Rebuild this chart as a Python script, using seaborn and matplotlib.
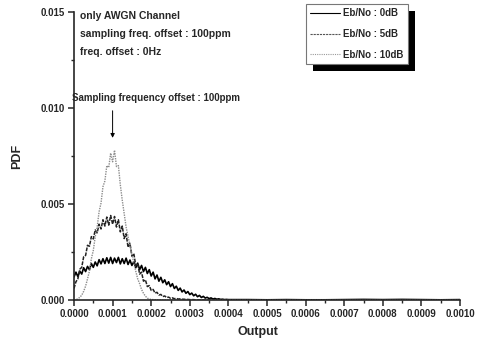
import numpy as np
import pandas as pd
import matplotlib
matplotlib.use("Agg")
import matplotlib.pyplot as plt
import matplotlib.patheffects as pe
from matplotlib.ticker import MultipleLocator, FormatStrFormatter
import seaborn as sns

# ---------------- data ----------------
# fine grid 0 .. 0.0004 (step 5e-6), then coarse tail to 0.001
output_fine = np.round(np.arange(0, 0.0004001, 0.000005), 7)
output_tail = [0.00045, 0.0005, 0.00055, 0.0006, 0.00065, 0.0007,
               0.00075, 0.0008, 0.00085, 0.0009, 0.00095, 0.001]

pdf_0dB = [0.00120, 0.00145, 0.00122, 0.00150, 0.00135, 0.00168, 0.00148, 0.00175,
           0.00158, 0.00190, 0.00170, 0.00198, 0.00178, 0.00210, 0.00188, 0.00215,
           0.00190, 0.00220, 0.00192, 0.00222, 0.00190, 0.00218, 0.00195, 0.00222,
           0.00188, 0.00215, 0.00190, 0.00218, 0.00185, 0.00208, 0.00180, 0.00200,
           0.00168, 0.00192, 0.00158, 0.00180, 0.00148, 0.00170, 0.00138, 0.00158,
           0.00125, 0.00145, 0.00110, 0.00130, 0.00098, 0.00118, 0.00090, 0.00105,
           0.00080, 0.00095, 0.00070, 0.00085, 0.00060, 0.00072, 0.00050, 0.00062,
           0.00042, 0.00052, 0.00035, 0.00044, 0.00028, 0.00036, 0.00022, 0.00030,
           0.00017, 0.00024, 0.00013, 0.00019, 0.00010, 0.00014, 0.00007, 0.00011,
           0.00005, 0.00008, 0.00004, 0.00006, 0.00003, 0.00004, 0.00002, 0.00003,
           0.00002]
tail_0dB = [0.00002, 0.00001, 0.00002, 0.00001, 0.00001, 0.00002,
            0.00003, 0.00002, 0.00003, 0.00002, 0.00001, 0.00002]

pdf_5dB = [0.00060, 0.00095, 0.00110, 0.00160, 0.00170, 0.00225, 0.00232, 0.00285,
           0.00280, 0.00330, 0.00318, 0.00365, 0.00350, 0.00395, 0.00370, 0.00418,
           0.00385, 0.00432, 0.00390, 0.00440, 0.00395, 0.00435, 0.00380, 0.00418,
           0.00355, 0.00385, 0.00320, 0.00345, 0.00275, 0.00295, 0.00228, 0.00242,
           0.00180, 0.00190, 0.00135, 0.00145, 0.00098, 0.00105, 0.00070, 0.00075,
           0.00050, 0.00055, 0.00036, 0.00040, 0.00026, 0.00029, 0.00018, 0.00021,
           0.00013, 0.00015, 0.00009, 0.00011, 0.00007, 0.00008, 0.00005, 0.00006,
           0.00004, 0.00004, 0.00003, 0.00003, 0.00002, 0.00002, 0.00002, 0.00001,
           0.00001, 0.00001, 0.0, 0.0, 0.0, 0.0, 0.0, 0.0,
           0.0, 0.0, 0.0, 0.0, 0.0, 0.0, 0.0, 0.0, 0.0]
tail_5dB = [0.0] * 12

pdf_10dB = [0.0, 0.00002, 0.00006, 0.00014, 0.00025, 0.00045, 0.00072, 0.00110,
            0.00150, 0.00215, 0.00258, 0.00330, 0.00380, 0.00460, 0.00505, 0.00590,
            0.00620, 0.00700, 0.00690, 0.00765, 0.00720, 0.00780, 0.00695, 0.00700,
            0.00600, 0.00520, 0.00450, 0.00380, 0.00330, 0.00285, 0.00240, 0.00190,
            0.00150, 0.00110, 0.00085, 0.00055, 0.00035, 0.00020, 0.00010, 0.00005,
            0.00003, 0.00002, 0.00001, 0.0, 0.0, 0.0, 0.0, 0.0,
            0.0, 0.0, 0.0, 0.0, 0.0, 0.0, 0.0, 0.0,
            0.0, 0.0, 0.0, 0.0, 0.0, 0.0, 0.0, 0.0,
            0.0, 0.0, 0.0, 0.0, 0.0, 0.0, 0.0, 0.0,
            0.0, 0.0, 0.0, 0.0, 0.0, 0.0, 0.0, 0.0, 0.0]
tail_10dB = [0.0] * 12

series_labels = ["Eb/No : 0dB", "Eb/No : 5dB", "Eb/No : 10dB"]
x_ticks = [0.0000, 0.0001, 0.0002, 0.0003, 0.0004, 0.0005,
           0.0006, 0.0007, 0.0008, 0.0009, 0.0010]
y_ticks = [0.000, 0.005, 0.010, 0.015]

x_all = list(output_fine) + output_tail
df = pd.DataFrame({
    "Output": x_all * 3,
    "PDF": pdf_0dB + tail_0dB + pdf_5dB + tail_5dB + pdf_10dB + tail_10dB,
    "series": sum([[s] * len(x_all) for s in series_labels], []),
})

# ---------------- style ----------------
sns.set_style("ticks")
plt.rcParams["font.family"] = ["Liberation Sans", "DejaVu Sans"]
plt.rcParams["font.weight"] = "bold"

fig = plt.figure(figsize=(4.82, 3.43), dpi=100)
ax = fig.add_axes([74 / 482, 1 - 300 / 343, 386 / 482, 288 / 343])

styles = {
    "Eb/No : 0dB": dict(color="black", linestyle="-", linewidth=1.2),
    "Eb/No : 5dB": dict(color="#222222", linestyle=(0, (2.5, 0.8)), linewidth=1.1),
    "Eb/No : 10dB": dict(color="#8c8c8c", linestyle=(0, (1, 0.8)), linewidth=1.0),
}
for s in series_labels:
    sub = df[df["series"] == s]
    sns.lineplot(data=sub, x="Output", y="PDF", ax=ax, label=s, **styles[s])

ax.set_xlim(0, 0.001)
ax.set_ylim(0, 0.015)
ax.set_xticks(x_ticks)
ax.set_yticks(y_ticks)
ax.xaxis.set_major_formatter(FormatStrFormatter("%.4f"))
ax.yaxis.set_major_formatter(FormatStrFormatter("%.3f"))
ax.xaxis.set_minor_locator(MultipleLocator(0.00005))
ax.yaxis.set_minor_locator(MultipleLocator(0.0025))
ax.tick_params(which="major", direction="out", length=4, width=1.1, labelsize=7, pad=2.5)
ax.tick_params(which="minor", direction="out", length=2.5, width=1.0)
for lab in ax.get_xticklabels() + ax.get_yticklabels():
    lab.set_fontweight("bold")
sns.despine(ax=ax)
for sp in ("left", "bottom"):
    ax.spines[sp].set_linewidth(1.2)

ax.set_xlabel("Output", fontsize=9, fontweight="bold")
ax.set_ylabel("PDF", fontsize=9, fontweight="bold")
ax.xaxis.set_label_coords(0.477, -0.092)
ax.yaxis.set_label_coords(-0.132, 0.5)

# annotations
ax.text(0.0000155, 0.01479, "only AWGN Channel", fontsize=7.5, fontweight="bold", va="center")
ax.text(0.0000155, 0.01385, "sampling freq. offset : 100ppm", fontsize=7.5, fontweight="bold", va="center")
ax.text(0.0000155, 0.01292, "freq. offset : 0Hz", fontsize=7.5, fontweight="bold", va="center")
ax.text(-0.0000052, 0.01052, "Sampling frequency offset : 100ppm", fontsize=7.0,
        fontweight="bold", va="center", clip_on=False)
ax.annotate("", xy=(0.0001, 0.0083), xytext=(0.0001, 0.0100),
            arrowprops=dict(arrowstyle="-|>", color="black", lw=0.7,
                            mutation_scale=6))

leg = ax.legend(loc="upper left", bbox_to_anchor=(0.601, 1.028), frameon=True,
                fancybox=False, fontsize=7, handlelength=3.1, borderpad=0.45,
                labelspacing=1.1, handletextpad=0.3, borderaxespad=0)
frame = leg.get_frame()
frame.set_edgecolor("#777777")
frame.set_linewidth(0.8)
frame.set_alpha(1)
frame.set_path_effects([pe.SimplePatchShadow(offset=(5, -5), shadow_rgbFace="black", alpha=1),
                        pe.Normal()])
leg_styles = {
    "Eb/No : 0dB": dict(color="black", linestyle="-", linewidth=0.8),
    "Eb/No : 5dB": dict(color="#555555", linestyle=(0, (2, 0.8)), linewidth=0.8),
    "Eb/No : 10dB": dict(color="#999999", linestyle=(0, (1, 1)), linewidth=0.8),
}
for line, t in zip(leg.get_lines(), leg.get_texts()):
    t.set_fontweight("bold")
    st = leg_styles[t.get_text()]
    line.set_color(st["color"])
    line.set_linestyle(st["linestyle"])
    line.set_linewidth(st["linewidth"])

fig.savefig("out.png", dpi=100)
